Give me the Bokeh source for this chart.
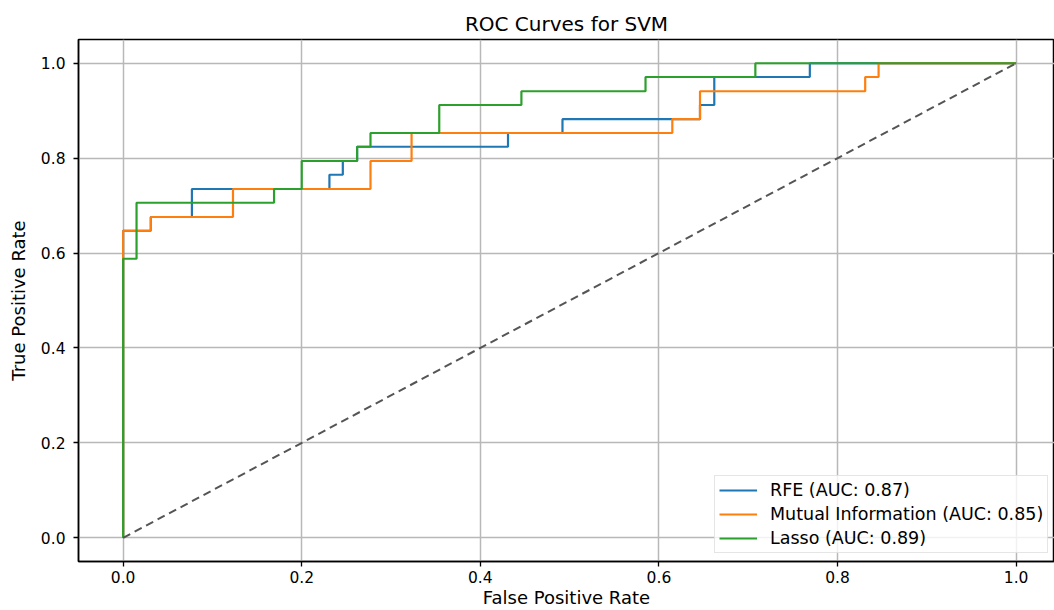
from bokeh.plotting import figure
from bokeh.models import Legend, LegendItem, FixedTicker, PrintfTickFormatter, Range1d
from bokeh.embed import file_html
from bokeh.resources import INLINE

# ROC curve points
rfe_fpr = [0.0, 0.0, 0.031, 0.031, 0.077, 0.077, 0.231, 0.231, 0.246, 0.246, 0.262, 0.262,
           0.431, 0.431, 0.492, 0.492, 0.646, 0.646, 0.662, 0.662, 0.769, 0.769, 1.0]
rfe_tpr = [0.0, 0.647, 0.647, 0.676, 0.676, 0.735, 0.735, 0.765, 0.765, 0.794, 0.794, 0.824,
           0.824, 0.853, 0.853, 0.882, 0.882, 0.912, 0.912, 0.971, 0.971, 1.0, 1.0]

mi_fpr = [0.0, 0.0, 0.031, 0.031, 0.123, 0.123, 0.277, 0.277, 0.323, 0.323, 0.615, 0.615,
          0.646, 0.646, 0.831, 0.831, 0.846, 0.846, 1.0]
mi_tpr = [0.0, 0.647, 0.647, 0.676, 0.676, 0.735, 0.735, 0.794, 0.794, 0.853, 0.853, 0.882,
          0.882, 0.941, 0.941, 0.971, 0.971, 1.0, 1.0]

lasso_fpr = [0.0, 0.0, 0.015, 0.015, 0.169, 0.169, 0.2, 0.2, 0.262, 0.262, 0.277, 0.277,
             0.354, 0.354, 0.446, 0.446, 0.585, 0.585, 0.708, 0.708, 1.0]
lasso_tpr = [0.0, 0.588, 0.588, 0.706, 0.706, 0.735, 0.735, 0.794, 0.794, 0.824, 0.824, 0.853,
             0.853, 0.912, 0.912, 0.941, 0.941, 0.971, 0.971, 1.0, 1.0]

chance_x = [0.0, 1.0]
chance_y = [0.0, 1.0]

labels = ["RFE (AUC: 0.87)", "Mutual Information (AUC: 0.85)", "Lasso (AUC: 0.89)"]
colors = ["#1f77b4", "#ff7f0e", "#2ca02c"]
ticks = [0.0, 0.2, 0.4, 0.6, 0.8, 1.0]

FONT = "DejaVu Sans"

p = figure(width=1054, height=610, output_backend="svg", toolbar_location=None,
           x_range=Range1d(-0.05, 1.043), y_range=Range1d(-0.05, 1.05),
           min_border_left=78, min_border_right=0, min_border_top=39, min_border_bottom=49,
           title="ROC Curves for SVM")

p.title.text_font = FONT
p.title.text_font_size = "20px"
p.title.text_font_style = "normal"
p.title.align = "center"
p.title.text_color = "#000000"
p.title.standoff = 7

r1 = p.line(rfe_fpr, rfe_tpr, line_color=colors[0], line_width=2.2)
r2 = p.line(mi_fpr, mi_tpr, line_color=colors[1], line_width=2.2)
r3 = p.line(lasso_fpr, lasso_tpr, line_color=colors[2], line_width=2.2)
p.line(chance_x, chance_y, line_color="#555555", line_width=2, line_dash="8 5")

for ax in (p.xaxis[0], p.yaxis[0]):
    ax.ticker = FixedTicker(ticks=ticks)
    ax.formatter = PrintfTickFormatter(format="%.1f")
    ax.major_label_text_font = FONT
    ax.major_label_text_font_size = "15.5px"
    ax.major_label_text_color = "#000000"
    ax.axis_label_text_font = FONT
    ax.axis_label_text_font_size = "18px"
    ax.axis_label_text_font_style = "normal"
    ax.axis_label_text_color = "#000000"
    ax.major_tick_in = 0
    ax.major_tick_out = 5
    ax.major_tick_line_color = "#000000"
    ax.major_tick_line_width = 1.3
    ax.minor_tick_line_color = None
    ax.axis_line_color = "#000000"
    ax.axis_line_width = 1.5

p.xaxis.axis_label = "False Positive Rate"
p.yaxis.axis_label = "True Positive Rate"
p.xaxis.major_label_standoff = 4
p.xaxis.axis_label_standoff = 1
p.yaxis.major_label_standoff = 8
p.yaxis.axis_label_standoff = 9

p.xgrid.ticker = FixedTicker(ticks=ticks)
p.ygrid.ticker = FixedTicker(ticks=ticks)
p.grid.grid_line_color = "#b8b8b8"
p.grid.grid_line_width = 1.5

p.outline_line_color = "#000000"
p.outline_line_width = 1.5
p.background_fill_color = "white"
p.border_fill_color = "white"

legend = Legend(items=[LegendItem(label=labels[0], renderers=[r1]),
                       LegendItem(label=labels[1], renderers=[r2]),
                       LegendItem(label=labels[2], renderers=[r3])],
                location=(636, 8))
legend.label_text_font = FONT
legend.label_text_font_size = "17.5px"
legend.label_text_color = "#000000"
legend.glyph_width = 38
legend.glyph_height = 20
legend.label_height = 20
legend.label_standoff = 13
legend.spacing = 4
legend.padding = 4
legend.margin = 0
legend.border_line_color = "#cccccc"
legend.border_line_width = 1.2
legend.background_fill_color = "white"
legend.background_fill_alpha = 0.8
p.add_layout(legend)

open("out.html", "w").write(file_html(p, INLINE))
